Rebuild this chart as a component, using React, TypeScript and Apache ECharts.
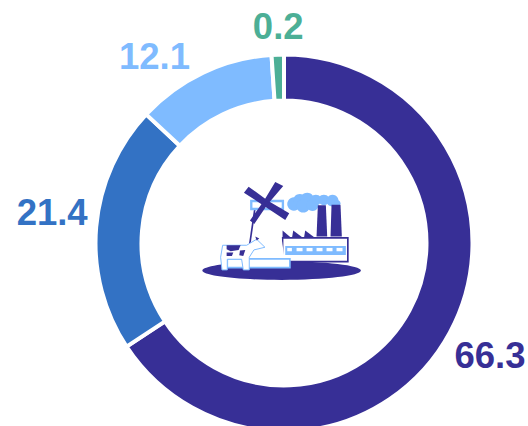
import React, { useEffect, useRef } from "react";
import * as echarts from "echarts";

const names = ["A", "B", "C", "D"];
const values = [66.3, 21.4, 12.1, 0.2];
const labels = ["66.3", "21.4", "12.1", "0.2"];
const colors = ["#372F96", "#3372C4", "#7FBBFF", "#4CAF96"];
const labelShift = [[-4, 21], [0.5, -14], [-6.5, -13], [31, -24]];

const DARK = "#372F96";
const LIGHT = "#7FBBFF";

const poly = (pts: number[][], fill: string, stroke?: string, lineWidth = 0) => ({
  type: "polygon",
  shape: { points: pts },
  style: { fill, stroke, lineWidth },
});
const box = (x: number, y: number, width: number, height: number, fill: string, stroke?: string, lineWidth = 0) => ({
  type: "rect",
  shape: { x, y, width, height },
  style: { fill, stroke, lineWidth },
});
const blob = (cx: number, cy: number, r: number, fill: string) => ({
  type: "circle",
  shape: { cx, cy, r },
  style: { fill },
});

const art = [
  { type: "ellipse", shape: { cx: 275, cy: 302, rx: 238, ry: 28 }, style: { fill: DARK } },
  // cloud
  blob(312, 102, 20, LIGHT), blob(330, 92, 20, LIGHT), blob(352, 88, 20, LIGHT), blob(378, 90, 16, LIGHT),
  blob(402, 90, 16, LIGHT), blob(428, 92, 18, LIGHT), blob(442, 100, 10, LIGHT), blob(340, 108, 20, LIGHT), blob(368, 105, 18, LIGHT),
  // chimneys
  poly([[380, 200], [384, 106], [408, 106], [412, 200]], DARK),
  poly([[422, 200], [425, 104], [452, 104], [456, 200]], DARK),
  // factory roof
  poly([[278, 206], [278, 182], [306, 206]], DARK),
  poly([[306, 206], [310, 182], [342, 206]], DARK),
  poly([[342, 206], [346, 182], [378, 206]], DARK),
  box(278, 204, 196, 71, "#ffffff", DARK, 5),
  box(286, 228, 182, 27, LIGHT),
  box(320, 234, 18, 10, "#ffffff"), box(350, 234, 18, 10, "#ffffff"), box(380, 234, 18, 10, "#ffffff"),
  box(410, 234, 18, 10, "#ffffff"), box(440, 234, 18, 10, "#ffffff"), box(292, 234, 14, 10, "#ffffff"),
  // mill tower
  poly([[195, 115], [262, 115], [284, 266], [176, 266]], "#ffffff"),
  { type: "line", shape: { x1: 195, y1: 115, x2: 178, y2: 232 }, style: { stroke: DARK, lineWidth: 5 } },
  box(184, 93, 95, 24, "#ffffff", LIGHT, 7),
  // sails
  poly([[162, 68], [176, 50], [234, 92], [298, 130], [286, 150], [226, 110]], DARK),
  poly([[256, 36], [280, 48], [232, 104], [193, 162], [180, 152], [222, 92]], DARK),
  { type: "circle", shape: { cx: 230, cy: 101, r: 6 }, style: { fill: DARK } },
  // base
  box(112, 267, 188, 26, "#ffffff", LIGHT, 5),
  // cow
  poly([[98, 226], [170, 226], [200, 208], [225, 232], [192, 240], [178, 262], [178, 300], [160, 300], [155, 268], [112, 268], [112, 300], [96, 300], [92, 262]], "#ffffff", LIGHT, 3),
  poly([[110, 226], [152, 226], [146, 240], [122, 244], [110, 238]], DARK),
  poly([[150, 242], [166, 240], [160, 258], [148, 256]], DARK),
  poly([[110, 248], [130, 248], [126, 258], [110, 258]], DARK),
  poly([[196, 200], [208, 206], [200, 212]], DARK),
];

export default function App() {
  const ref = useRef<HTMLDivElement>(null);
  useEffect(() => {
    const chart = echarts.init(ref.current!, undefined, { renderer: "svg" });
    chart.setOption({
      animation: false,
      graphic: [{ type: "group", x: 190, y: 170, scaleX: 1 / 3, scaleY: 1 / 3, children: art }],
      series: [
        {
          type: "pie",
          center: [284, 243],
          radius: [142.5, 188.5],
          startAngle: 90,
          minAngle: 3.8,
          clockwise: true,
          avoidLabelOverlap: false,
          itemStyle: { borderColor: "#ffffff", borderWidth: 4 },
          label: {
            show: true,
            position: "outside",
            fontFamily: "Liberation Sans",
            fontSize: 36.5,
            fontWeight: "bold",
            formatter: (p: any) => labels[p.dataIndex],
          },
          labelLine: { show: false, length: 4, length2: 0 },
          labelLayout: (p: any) => ({ dx: labelShift[p.dataIndex][0], dy: labelShift[p.dataIndex][1] }),
          data: values.map((value, i) => ({
            name: names[i],
            value,
            itemStyle: { color: colors[i] },
            label: { color: colors[i] },
          })),
        },
      ],
    });
    return () => chart.dispose();
  }, []);
  return <div ref={ref} style={{ position: "absolute", left: 0, top: 0, width: 528, height: 426 }} />;
}
